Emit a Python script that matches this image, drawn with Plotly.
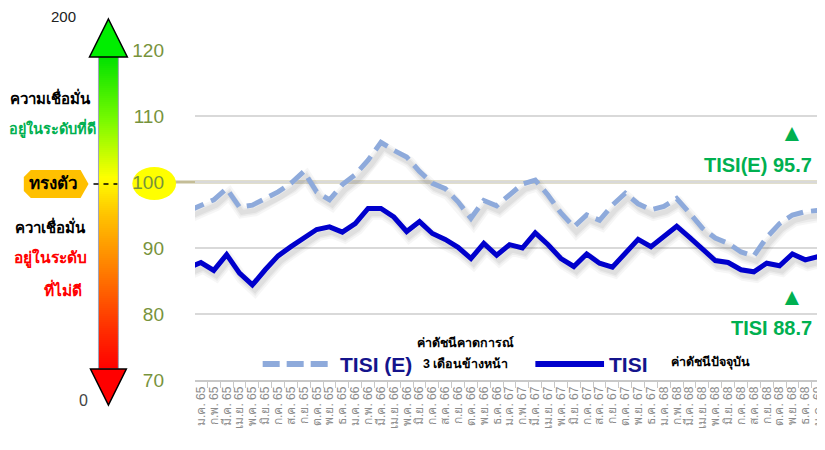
import plotly.graph_objects as go

# ---------------- data ----------------
months = ["ธ.ค. 64",
          "ม.ค. 65", "ก.พ. 65", "มี.ค. 65", "เม.ย. 65", "พ.ค. 65", "มิ.ย. 65", "ก.ค. 65", "ส.ค. 65", "ก.ย. 65", "ต.ค. 65", "พ.ย. 65", "ธ.ค. 65",
          "ม.ค. 66", "ก.พ. 66", "มี.ค. 66", "เม.ย. 66", "พ.ค. 66", "มิ.ย. 66", "ก.ค. 66", "ส.ค. 66", "ก.ย. 66", "ต.ค. 66", "พ.ย. 66", "ธ.ค. 66",
          "ม.ค. 67", "ก.พ. 67", "มี.ค. 67", "เม.ย. 67", "พ.ค. 67", "มิ.ย. 67", "ก.ค. 67", "ส.ค. 67", "ก.ย. 67", "ต.ค. 67", "พ.ย. 67", "ธ.ค. 67",
          "ม.ค. 68", "ก.พ. 68", "มี.ค. 68", "เม.ย. 68", "พ.ค. 68", "มิ.ย. 68", "ก.ค. 68", "ส.ค. 68", "ก.ย. 68", "ต.ค. 68", "พ.ย. 68", "ธ.ค. 68",
          "ม.ค. 69"]

tisi = [87.0,
        87.8, 86.6, 89.0, 86.2, 84.4, 86.7, 88.8, 90.2, 91.6, 92.8, 93.2, 92.4,
        93.7, 96.0, 96.0, 94.7, 92.5, 94.0, 92.2, 91.3, 90.1, 88.4, 90.7, 88.9,
        90.5, 90.0, 92.3, 90.5, 88.4, 87.2, 89.1, 87.7, 87.1, 89.2, 91.3, 90.2,
        91.8, 93.3, 91.6, 89.8, 88.1, 87.8, 86.7, 86.4, 87.7, 87.3, 89.1, 88.2,
        88.7]

tisi_e = [95.6,
          96.4, 97.3, 99.0, 96.2, 96.5, 97.5, 98.5, 99.8, 101.6, 98.5, 97.3, 99.6,
          101.1, 103.3, 106.0, 104.8, 103.8, 101.6, 99.8, 99.0, 97.0, 94.5, 97.2, 96.4,
          98.0, 99.7, 100.3, 98.0, 95.3, 93.2, 95.0, 94.2, 96.5, 98.3, 96.7, 95.8,
          96.3, 97.5, 95.3, 93.0, 91.5, 90.7, 89.4, 88.8, 91.6, 93.7, 95.0, 95.5,
          95.7]

y_ticks = [70, 80, 90, 100, 110, 120]
latest_tisi_e = 95.7
latest_tisi = 88.7

# ---------------- geometry helpers (screen pixel -> paper) ----------------
OFF = 8  # page body margin
W, H = 825, 450
L, R, T = 195 - OFF, OFF, 50 - OFF
B = H - (380 - OFF)
PW, PH = W - L - R, H - T - B


def px(x):
    return (x - OFF - L) / PW


def py(y):
    return (H - B - (y - OFF)) / PH


xs = list(range(-1, len(months) - 1))

fig = go.Figure()

# soft shadows
for w, a in [(12, 0.035), (8, 0.045), (5, 0.05)]:
    fig.add_trace(go.Scatter(x=[v + 0.2 for v in xs], y=[v - 0.8 for v in tisi_e], mode="lines",
                             line=dict(color="rgba(0,0,0,%s)" % a, width=w), hoverinfo="skip", showlegend=False))
    fig.add_trace(go.Scatter(x=[v + 0.2 for v in xs], y=[v - 0.8 for v in tisi], mode="lines",
                             line=dict(color="rgba(0,0,0,%s)" % a, width=w), hoverinfo="skip", showlegend=False))

fig.add_trace(go.Scatter(x=xs, y=tisi_e, mode="lines", name="TISI (E)",
                         line=dict(color="#8eaadb", width=5, dash="17px,8px"), showlegend=False))
fig.add_trace(go.Scatter(x=xs, y=tisi, mode="lines", name="TISI",
                         line=dict(color="#0000cc", width=5), showlegend=False))

shapes = []

# 100 reference line
shapes.append(dict(type="line", xref="paper", yref="y", x0=px(172), x1=1, y0=100, y1=100,
                   line=dict(color="#c4bd97", width=3), layer="between"))

# yellow ellipse behind 100 label
shapes.append(dict(type="circle", xref="paper", yref="paper", x0=px(132), x1=px(176), y0=py(200), y1=py(167),
                   fillcolor="#ffff00", line=dict(width=0), layer="below"))

# gradient arrow shaft
stops = [(57, (0, 225, 0)), (120, (120, 250, 0)), (178, (255, 255, 0)), (215, (255, 195, 0)),
         (270, (255, 125, 0)), (330, (255, 45, 0)), (369, (255, 0, 0))]


def col_at(y):
    for (y0, c0), (y1, c1) in zip(stops[:-1], stops[1:]):
        if y0 <= y <= y1:
            t = (y - y0) / (y1 - y0)
            return "rgb(%d,%d,%d)" % tuple(round(a + (b - a) * t) for a, b in zip(c0, c1))
    return "rgb(%d,%d,%d)" % stops[-1][1]


yy = 56
while yy < 369:
    shapes.append(dict(type="rect", xref="paper", yref="paper", x0=px(98), x1=px(118),
                       y0=py(yy + 2.5), y1=py(yy), fillcolor=col_at(yy + 1), line=dict(width=0), layer="above"))
    yy += 2
shapes.append(dict(type="rect", xref="paper", yref="paper", x0=px(98), x1=px(118), y0=py(369), y1=py(56),
                   line=dict(color="#a0a4bc", width=1), layer="above"))


def path(points):
    return "M " + " L ".join("%f,%f" % (px(a), py(b)) for a, b in points) + " Z"


# arrow heads
shapes.append(dict(type="path", xref="paper", yref="paper", path=path([(108, 19), (127, 57), (89, 57)]),
                   fillcolor="#00ee00", line=dict(color="#000000", width=1.5), layer="above"))
shapes.append(dict(type="path", xref="paper", yref="paper", path=path([(90, 369), (126, 369), (108, 405)]),
                   fillcolor="#ff0000", line=dict(color="#000000", width=1.5), layer="above"))

# "ทรงตัว" tag
shapes.append(dict(type="path", xref="paper", yref="paper",
                   path=path([(30, 170), (80, 170), (88, 184), (80, 198), (30, 198), (23, 191), (23, 177)]),
                   fillcolor="#ffc000", line=dict(width=0), layer="above"))
shapes.append(dict(type="line", xref="paper", yref="paper", x0=px(93), x1=px(117), y0=py(184), y1=py(184),
                   line=dict(color="#000000", width=1.5, dash="5px,5px"), layer="above"))

# faint box at the top
shapes.append(dict(type="rect", xref="paper", yref="paper", x0=px(232), x1=px(642), y0=py(3), y1=py(-20),
                   line=dict(color="#d9d9d9", width=1), layer="above"))

# legend samples
shapes.append(dict(type="line", xref="paper", yref="paper", x0=px(263), x1=px(332), y0=py(364), y1=py(364),
                   line=dict(color="#8eaadb", width=6, dash="17px,7px"), layer="above"))
shapes.append(dict(type="line", xref="paper", yref="paper", x0=px(537), x1=px(606), y0=py(364), y1=py(364),
                   line=dict(color="#0000cc", width=6), layer="above"))

fig.update_layout(shapes=shapes)

ann = []


def text(x, y, s, size=14, color="#000000", bold=False, xanchor="center", family=None):
    ann.append(dict(xref="paper", yref="paper", x=px(x), y=py(y), text=("<b>%s</b>" % s) if bold else s,
                    showarrow=False, xanchor=xanchor, yanchor="middle",
                    font=dict(size=size, color=color, family=family or "Tahoma, 'Liberation Sans', Arial, sans-serif")))


text(63, 17, "200", 15, "#222222")
text(83, 400, "0", 16, "#444444")
text(50, 97, "ความเชื่อมั่น", 15, "#000000", True)
text(52, 128, "อยู่ในระดับที่ดี", 14.5, "#00b050", True)
text(53, 184, "ทรงตัว", 17, "#000000", True)
text(50, 226, "ควาเชื่อมั่น", 15, "#000000", True)
text(50, 258, "อยู่ในระดับ", 15.5, "#ff0000", True)
text(62, 289, "ที่ไม่ดี", 15.5, "#ff0000", True)

# legend texts
text(377, 364, "TISI (E)", 21, "#14148c", True)
text(467, 342, "ค่าดัชนีคาดการณ์", 12.5, "#000000", True)
text(467, 364, "3 เดือนข้างหน้า", 12.5, "#000000", True)
text(631, 364, "TISI", 21, "#14148c", True)
text(713, 362, "ค่าดัชนีปัจจุบัน", 12.5, "#000000", True)

# latest-value callouts
text(795, 133, "▲", 24, "#00b050")
text(761, 165, "TISI(E) %.1f" % latest_tisi_e, 20, "#00b050", True)
text(795, 296, "▲", 24, "#00b050")
text(774, 328, "TISI %.1f" % latest_tisi, 20, "#00b050", True)

fig.update_layout(annotations=ann)

fig.update_layout(
    width=W, height=H,
    margin=dict(l=L, r=R, t=T, b=B, pad=0),
    paper_bgcolor="#ffffff", plot_bgcolor="#ffffff",
    font=dict(family="Tahoma, 'Liberation Sans', Arial, sans-serif"),
    showlegend=False,
    xaxis=dict(
        range=[-0.46, 48.3],
        tickmode="array", tickvals=xs, ticktext=months,
        tickangle=-90, tickfont=dict(size=12, color="#8c8c8c"),
        ticks="", showgrid=False, zeroline=False,
        showline=True, linecolor="#c8c8c8", linewidth=1.5,
        minor=dict(tickmode="array", tickvals=[v + 0.5 for v in xs], ticks="outside",
                   ticklen=6, tickcolor="#c8c8c8", tickwidth=1, showgrid=False),
    ),
    yaxis=dict(
        range=[70, 120],
        tickmode="array", tickvals=y_ticks,
        tickfont=dict(size=19, color="#77933c", family="'Liberation Sans', Arial, sans-serif"),
        ticks="", ticklabelstandoff=30,
        showgrid=True, gridcolor="#d9d9d9", gridwidth=1.5,
        zeroline=False, showline=False,
    ),
)

fig.write_html("out.html")
